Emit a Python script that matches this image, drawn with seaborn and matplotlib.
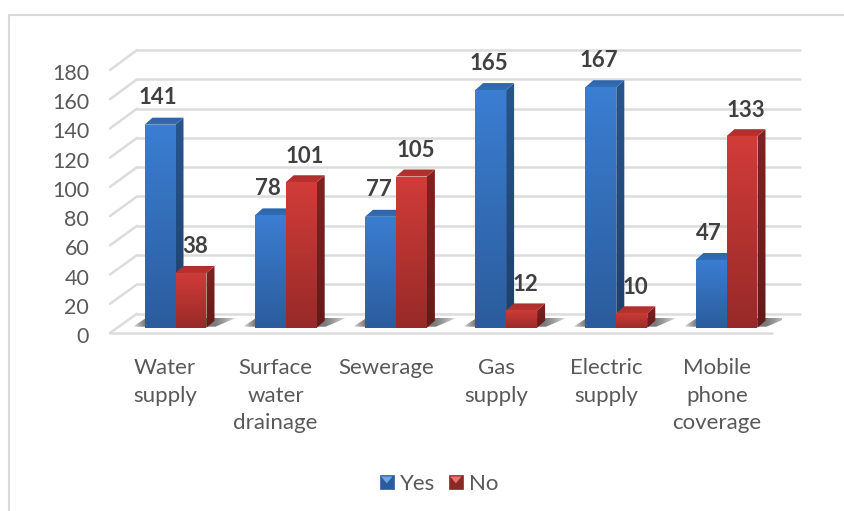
import numpy as np
import pandas as pd
import matplotlib
matplotlib.use("Agg")
import matplotlib.pyplot as plt
import seaborn as sns
from matplotlib.colors import to_rgb
from matplotlib.legend_handler import HandlerBase
from matplotlib.patches import ConnectionPatch, Patch, Polygon, Rectangle
from matplotlib.transforms import ScaledTranslation

categories = ["Water\nsupply", "Surface\nwater\ndrainage", "Sewerage", "Gas\nsupply",
              "Electric\nsupply", "Mobile\nphone\ncoverage"]
yes_values = [141, 78, 77, 165, 167, 47]
no_values = [38, 101, 105, 12, 10, 133]
y_ticks = list(range(0, 181, 20))

W, H = 844, 511
TEXT = "#595959"
LABEL = "#404040"
GRID = "#dcdcdc"

# front, side and top colours as (top, bottom) of the gradient
FACES = {
    "Yes": {"front": ("#3b7ed2", "#2b5c9c"), "side": ("#28558e", "#1e3f6c"), "top": ("#2c62a6", "#336fba")},
    "No": {"front": ("#d23c39", "#962a28"), "side": ("#7f2321", "#631a18"), "top": ("#a82d2a", "#bd3431")},
}


def px_axes(fig, left, right, bottom, top):
    return fig.add_axes([left / W, 1 - bottom / H, (right - left) / W, (bottom - top) / H])


def gradient(ax, verts, top, bottom, z):
    # image filled top to bottom and cut to the polygon of the face
    verts = np.array(verts)
    c = np.linspace(0, 1, 64)[:, None]
    img = (1 - c) * np.array(to_rgb(top)) + c * np.array(to_rgb(bottom))
    # image a little larger than the face so the clip edge has no pale fringe
    im = ax.imshow(img[:, None, :], aspect="auto", zorder=z, interpolation="bilinear",
                   extent=(verts[:, 0].min() - 0.02, verts[:, 0].max() + 0.02,
                           verts[:, 1].min() - 1.5, verts[:, 1].max() + 1.5))
    im.set_clip_path(Polygon(verts, transform=ax.transData))


def shadow(ax, verts, left, right, z):
    # soft floor shadow, darkest next to the bars
    verts = np.array(verts)
    xs = np.linspace(verts[:, 0].min(), verts[:, 0].max(), 80)
    alpha = np.interp(xs, [xs[0], left, right, xs[-1]], [0, 1, 1, 0]) ** 0.6
    img = np.zeros((1, 80, 4))
    img[..., :3] = 0.25
    img[..., 3] = 0.7 * alpha
    im = ax.imshow(img, aspect="auto", zorder=z, interpolation="bilinear",
                   extent=(xs[0], xs[-1], verts[:, 1].min(), verts[:, 1].max()))
    im.set_clip_path(Polygon(verts, transform=ax.transData))


class BevelHandler(HandlerBase):
    def create_artists(self, legend, orig, xd, yd, width, height, fontsize, trans):
        dark, light = orig.get_edgecolor(), orig.get_facecolor()
        size = 13.5 * 0.72
        x0, y0 = -xd + (width - size) / 2, -yd + (height - size) / 2
        box = Rectangle((x0, y0), size, size, facecolor=dark, edgecolor=dark, lw=0.5, transform=trans)
        tri = Polygon([(x0 + 0.7, y0 + size - 0.7), (x0 + size - 0.7, y0 + size - 0.7), (x0 + size / 2, y0 + size * 0.42)],
                      facecolor=light, edgecolor="none", transform=trans)
        return [box, tri]


sns.set_style("white")
plt.rcParams["font.family"] = ["Lato", "DejaVu Sans"]

df = pd.DataFrame({"category": categories * 2,
                   "value": yes_values + no_values,
                   "series": ["Yes"] * 6 + ["No"] * 6})

fig = plt.figure(figsize=(W / 100, H / 100), dpi=100)

# chart border, only left and top are visible in the crop
fig.add_artist(plt.Line2D([9 / W, 9 / W, 1], [0, 1 - 15 / H, 1 - 15 / H], color="#d9d9d9", lw=1.5))

# back wall with the gridlines
ax_back = px_axes(fig, 137, 800, 313.7, 50)
ax_back.set_xlim(-0.5, 5.5)
ax_back.set_ylim(0, 180)
ax_back.set_yticks(y_ticks)
ax_back.set_xticks([])
ax_back.tick_params(left=False, labelleft=False)
ax_back.grid(axis="y", color=GRID, lw=1.8)
ax_back.set_axisbelow(True)
sns.despine(ax=ax_back, left=True, bottom=True)
for line in ax_back.get_ygridlines():
    line.set_clip_on(False)

# front plane, carries the tick labels
ax_front = px_axes(fig, 110, 772, 333, 70)
sns.barplot(data=df, x="category", y="value", hue="series", ax=ax_front, alpha=0, legend=False)
ax_front.set_ylim(0, 180)
ax_front.set_yticks(y_ticks)
ax_front.set_xlim(-0.5, 5.5)
ax_front.set_xlabel("")
ax_front.set_ylabel("")
ax_front.patch.set_alpha(0)
ax_front.tick_params(axis="both", length=0, labelcolor=TEXT)
ax_front.tick_params(axis="y", pad=15, labelsize=15.5)
ax_front.tick_params(axis="x", pad=18, labelsize=16)
for lab in ax_front.get_xticklabels():
    lab.set_linespacing(1.47)
for lab in ax_front.get_yticklabels():
    lab.set_transform(lab.get_transform() + ScaledTranslation(0, -0.02, fig.dpi_scale_trans))
ax_front.axhline(0, color=GRID, lw=1.8, clip_on=False)
sns.despine(ax=ax_front, left=True, bottom=True)
for t in y_ticks:
    fig.add_artist(ConnectionPatch((0, t / 180), (0, t / 180), "axes fraction", "axes fraction",
                                   axesA=ax_front, axesB=ax_back, color=GRID, lw=1.8))

# bars stand in the middle of the floor and are a bit flatter than the wall scale
BASE, SCALE = 327.7, 1.44
PAD = 12
ax = px_axes(fig, 120.4, 781.6, BASE + PAD * SCALE, BASE - 180 * SCALE)
ax.patch.set_alpha(0)
palette = {"Yes": "#336fba", "No": "#bd3431"}
sns.barplot(data=df, x="category", y="value", hue="series", hue_order=["Yes", "No"], palette=palette,
            order=categories, width=0.5625, gap=0, saturation=1, linewidth=0, ax=ax, legend=False)
ax.set_xlim(-0.5, 5.5)
ax.set_ylim(-PAD, 180)
ax.axis("off")

px_x = 6 / (781.6 - 120.4)  # data units per pixel
px_y = 1 / SCALE
DX, DY = 8 * px_x, 7 * px_y

for i in range(len(categories)):
    lefts = ax.containers[0][i].get_x()
    rights = ax.containers[1][i].get_x() + ax.containers[1][i].get_width()
    shadow(ax, [(lefts - 12 * px_x, 1 * px_y), (rights + 9 * px_x, 1 * px_y),
                (rights + 30 * px_x, 10 * px_y), (lefts + 2 * px_x, 10 * px_y)],
           lefts, rights + 8 * px_x, 1.5)

for j, name in enumerate(["Yes", "No"]):
    faces = FACES[name]
    z = 3 + j
    for bar in ax.containers[j]:
        x0, w, h = bar.get_x(), bar.get_width(), bar.get_height()
        x1 = x0 + w
        bar.set_zorder(z - 0.5)
        gradient(ax, [(x1, 0), (x1 + DX, DY), (x1 + DX, h + DY), (x1, h)], *faces["side"], z)
        gradient(ax, [(x0, h), (x1, h), (x1 + DX, h + DY), (x0 + DX, h + DY)], *faces["top"], z + 0.1)
        gradient(ax, [(x0, 0), (x1, 0), (x1, h), (x0, h)], *faces["front"], z + 0.2)
        shift = (-2, 27) if name == "Yes" else (4, 26)
        ax.annotate(f"{int(h)}", (x0 + w / 2, h), xytext=(shift[0] * 0.72, shift[1] * 0.72), textcoords="offset points",
                    ha="center", va="center", fontsize=16, fontweight="bold", color=LABEL, zorder=10,
                    annotation_clip=False)

ax.set_xlim(-0.5, 5.5)
ax.set_ylim(-PAD, 180)

handles = [Patch(facecolor="#6fa5e6", edgecolor="#2a5c9c", label="Yes"),
           Patch(facecolor="#ee6f6b", edgecolor="#8a2a28", label="No")]
fig.legend(handles=handles, loc="center", bbox_to_anchor=(439 / W, 1 - 484 / H), ncol=2, frameon=False,
           fontsize=16, labelcolor=TEXT, handlelength=0.62, handleheight=0.7, handletextpad=0.27, columnspacing=0.63,
           handler_map={Patch: BevelHandler()})

fig.savefig("out.png", dpi=100)
